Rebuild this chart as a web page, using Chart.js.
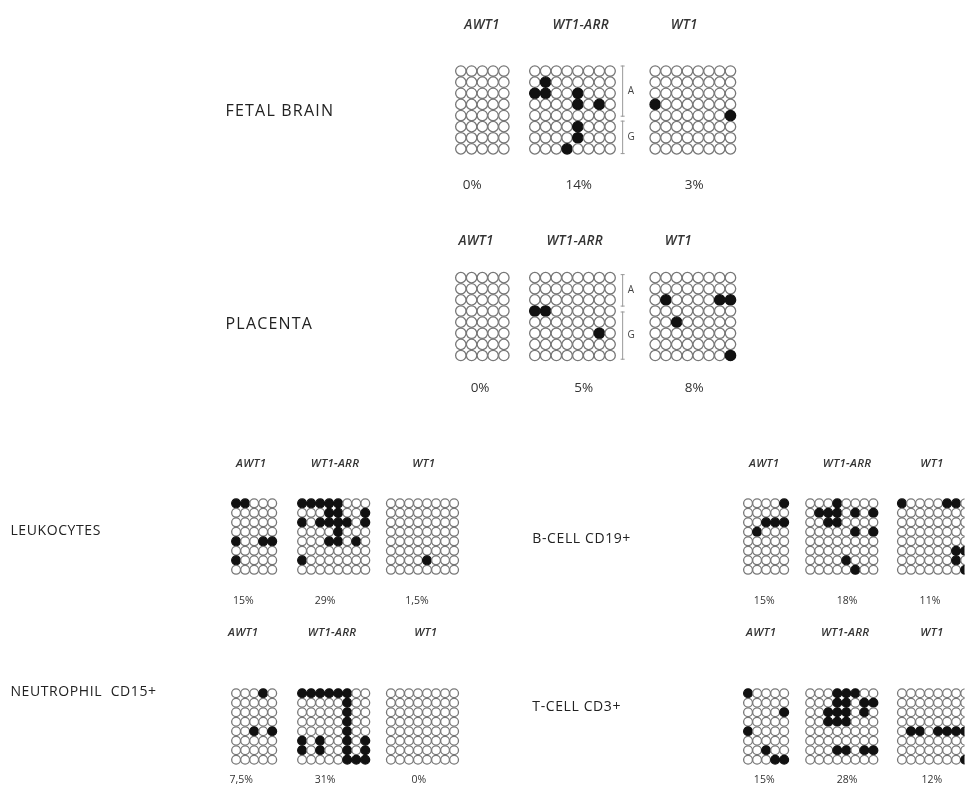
<!DOCTYPE html>
<html>
<head>
<meta charset="utf-8">
<script src="https://cdn.jsdelivr.net/npm/chart.js@4"></script>
<style>
  html, body { margin: 0; padding: 0; background: #fff; overflow: hidden; }
  canvas { display: block; }
</style>
</head>
<body>
<canvas id="methChart" width="971" height="806"></canvas>
<script>
// 데이터: 각 그리드의 메틸화된 CpG 위치 [행, 열]
const genes = ['AWT1', 'WT1-ARR', 'WT1'];
const gridCols = [5, 8, 8];
const gridRows = 8;
const tissues = ['FETAL BRAIN', 'PLACENTA', 'LEUKOCYTES', 'NEUTROPHIL  CD15+', 'B-CELL CD19+', 'T-CELL CD3+'];

const pctFetalBrain = ['0%', '14%', '3%'];
const pctPlacenta = ['0%', '5%', '8%'];
const pctLeukocytes = ['15%', '29%', '1,5%'];
const pctNeutrophil = ['7,5%', '31%', '0%'];
const pctBCell = ['15%', '18%', '11%'];
const pctTCell = ['15%', '28%', '12%'];

const dotsFetalBrain = [
    [],
    [[1,1],[2,0],[2,1],[2,4],[3,4],[3,6],[5,4],[6,4],[7,3]],
    [[3,0],[4,7]]
];
const dotsPlacenta = [
    [],
    [[3,0],[3,1],[5,6]],
    [[2,1],[2,6],[2,7],[4,2],[7,7]]
];
const dotsLeukocytes = [
    [[0,0],[0,1],[4,0],[4,3],[4,4],[6,0]],
    [[0,0],[0,1],[0,2],[0,3],[0,4],[1,3],[1,4],[1,7],[2,0],[2,2],[2,3],[2,4],[2,5],[2,7],[3,4],[4,3],[4,4],[4,6],[6,0]],
    [[6,4]]
];
const dotsNeutrophil = [
    [[0,3],[4,2],[4,4]],
    [[0,0],[0,1],[0,2],[0,3],[0,4],[0,5],[1,5],[2,5],[3,5],[4,5],[5,5],[6,5],[7,5],[5,0],[5,2],[5,7],[6,0],[6,2],[6,7],[7,6],[7,7]],
    []
];
const dotsBCell = [
    [[0,4],[2,2],[2,3],[2,4],[3,1]],
    [[0,3],[1,1],[1,2],[1,3],[1,5],[1,7],[2,2],[2,3],[3,5],[3,7],[6,4],[7,5]],
    [[0,0],[0,5],[0,6],[5,6],[5,7],[6,6],[7,7]]
];
const dotsTCell = [
    [[0,0],[2,4],[4,0],[6,2],[7,3],[7,4]],
    [[0,3],[0,4],[0,5],[1,3],[1,4],[1,6],[1,7],[2,2],[2,3],[2,4],[2,6],[3,2],[3,3],[3,4],[6,3],[6,4],[6,6],[6,7]],
    [[4,1],[4,2],[4,4],[4,5],[4,6],[4,7],[7,7]]
];

// 레이아웃 (캔버스 좌표 = 데이터 단위)
const big = { px: 10.9, py: 11.3, r: 5.2,
    gene: 'italic 600 13.5px "Open Sans"', geneSp: '0.3px',
    pct: '13.5px "Open Sans"', pctSp: '0px',
    name: '16px "Open Sans"', nameSp: '1.2px' };
const small = { px: 9.15, py: 9.65, r: 4.4,
    gene: 'italic 600 11.5px "Open Sans"', geneSp: '0.3px',
    pct: '10.5px "Open Sans"', pctSp: '0px',
    name: '14px "Open Sans"', nameSp: '0.6px' };

const panels = [
    { name: tissues[0], dots: dotsFetalBrain, pct: pctFetalBrain, st: big, nameX: 222, nameY: 107,
      geneY: 19, geneX: [482, 582, 687], gridX: [460.5, 535.5, 657.5], gridY: 65.6, pctY: 182, pctX: [472, 580, 697],
      bracket: { x: 624, a: [60, 112], g: [116, 150] } },
    { name: tissues[1], dots: dotsPlacenta, pct: pctPlacenta, st: big, nameX: 222, nameY: 323,
      geneY: 238, geneX: [476, 576, 681], gridX: [460.5, 535.5, 657.5], gridY: 275.6, pctY: 388, pctX: [480, 585, 697],
      bracket: { x: 624, a: [272, 305], g: [310, 359] } },
    { name: tissues[2], dots: dotsLeukocytes, pct: pctLeukocytes, st: small, nameX: 4, nameY: 533,
      geneY: 465, geneX: [248, 333, 423], gridX: [232.7, 299.6, 389.6], gridY: 505, pctY: 604, pctX: [240, 323, 416] },
    { name: tissues[3], dots: dotsNeutrophil, pct: pctNeutrophil, st: small, nameX: 4, nameY: 697,
      geneY: 636, geneX: [240, 330, 425], gridX: [232.7, 299.6, 389.6], gridY: 698, pctY: 786, pctX: [238, 323, 418] },
    { name: tissues[4], dots: dotsBCell, pct: pctBCell, st: small, nameX: 533, nameY: 541,
      geneY: 465, geneX: [768, 852, 938], gridX: [751.6, 814.6, 907.6], gridY: 505, pctY: 604, pctX: [768, 852, 936] },
    { name: tissues[5], dots: dotsTCell, pct: pctTCell, st: small, nameX: 533, nameY: 712,
      geneY: 636, geneX: [765, 850, 938], gridX: [751.6, 814.6, 907.6], gridY: 698, pctY: 786, pctX: [768, 852, 938] }
];

// 데이터셋 생성: 그리드마다 하나
const datasets = [];
panels.forEach(p => {
    genes.forEach((g, gi) => {
        const filled = new Set(p.dots[gi].map(d => d[0] + ',' + d[1]));
        const pts = [], bg = [], bd = [];
        for (let r = 0; r < gridRows; r++) {
            for (let c = 0; c < gridCols[gi]; c++) {
                pts.push({ x: p.gridX[gi] + c * p.st.px, y: p.gridY + r * p.st.py });
                const on = filled.has(r + ',' + c);
                bg.push(on ? '#111' : '#fff');
                bd.push(on ? '#111' : '#777');
            }
        }
        datasets.push({
            label: p.name + ' ' + g,
            data: pts,
            pointRadius: p.st.r,
            pointBorderWidth: 1.3,
            pointBackgroundColor: bg,
            pointBorderColor: bd,
            showLine: false
        });
    });
});

// 텍스트와 괄호 그리기
const labelPlugin = {
    id: 'labels',
    afterDatasetsDraw(chart) {
        const ctx = chart.ctx;
        const sx = chart.scales.x, sy = chart.scales.y;
        const X = v => sx.getPixelForValue(v), Y = v => sy.getPixelForValue(v);
        ctx.save();
        ctx.textBaseline = 'middle';
        panels.forEach(p => {
            ctx.fillStyle = '#222';
            ctx.textAlign = 'left';
            ctx.font = p.st.name;
            ctx.letterSpacing = p.st.nameSp;
            ctx.fillText(p.name, X(p.nameX), Y(p.nameY));
            ctx.textAlign = 'center';
            ctx.fillStyle = '#333';
            ctx.font = p.st.gene;
            ctx.letterSpacing = p.st.geneSp;
            genes.forEach((g, i) => ctx.fillText(g, X(p.geneX[i]), Y(p.geneY)));
            ctx.font = p.st.pct;
            ctx.letterSpacing = p.st.pctSp;
            p.pct.forEach((t, i) => ctx.fillText(t, X(p.pctX[i]), Y(p.pctY)));
            if (p.bracket) {
                const b = p.bracket;
                ctx.strokeStyle = '#999';
                ctx.lineWidth = 1;
                [b.a, b.g].forEach(seg => {
                    ctx.beginPath();
                    ctx.moveTo(X(b.x) + 0.5, Y(seg[0]));
                    ctx.lineTo(X(b.x) + 0.5, Y(seg[1]));
                    ctx.moveTo(X(b.x) - 1.5, Y(seg[0]) + 0.5);
                    ctx.lineTo(X(b.x) + 2.5, Y(seg[0]) + 0.5);
                    ctx.moveTo(X(b.x) - 1.5, Y(seg[1]) - 0.5);
                    ctx.lineTo(X(b.x) + 2.5, Y(seg[1]) - 0.5);
                    ctx.stroke();
                });
                ctx.fillStyle = '#444';
                ctx.font = '10px "Open Sans"';
                ctx.fillText('A', X(b.x + 9), Y((b.a[0] + b.a[1]) / 2));
                ctx.fillText('G', X(b.x + 9), Y((b.g[0] + b.g[1]) / 2));
            }
        });
        ctx.restore();
    }
};

new Chart(document.getElementById('methChart'), {
    type: 'scatter',
    data: { datasets: datasets },
    options: {
        responsive: false,
        animation: false,
        events: [],
        layout: { padding: 0 },
        plugins: { legend: { display: false }, tooltip: { enabled: false } },
        scales: {
            x: { type: 'linear', min: 0, max: 971, display: false },
            y: { type: 'linear', min: 0, max: 806, reverse: true, display: false }
        }
    },
    plugins: [labelPlugin]
});
</script>
</body>
</html>
